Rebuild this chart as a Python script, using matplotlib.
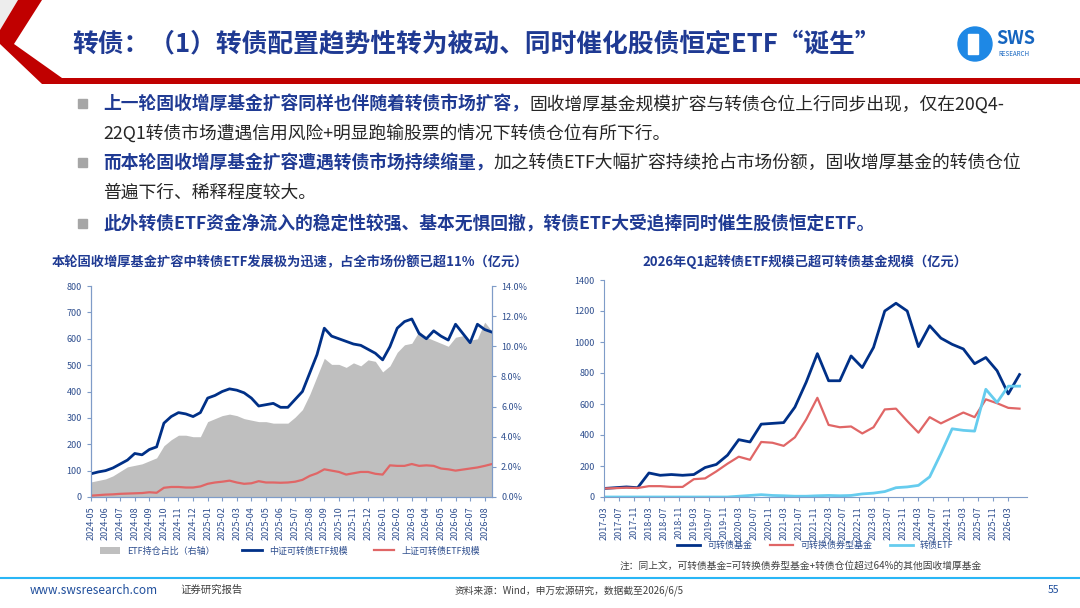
import matplotlib
matplotlib.use("Agg")
import matplotlib.pyplot as plt
from matplotlib.patches import Polygon, Rectangle
import numpy as np

plt.rcParams['font.family'] = ['Noto Sans CJK SC', 'DejaVu Sans']

# ---------- left chart data (semi-monthly) ----------
left_months = ['2024-05','2024-06','2024-07','2024-08','2024-09','2024-10','2024-11','2024-12',
               '2025-01','2025-02','2025-03','2025-04','2025-05','2025-06','2025-07','2025-08',
               '2025-09','2025-10','2025-11','2025-12','2026-01','2026-02','2026-03','2026-04',
               '2026-05','2026-06','2026-07','2026-08']
csi_etf = [88,95,100,110,125,140,165,160,180,190,280,305,320,315,305,320,
           375,385,400,410,405,395,375,345,350,355,340,340,370,400,470,540,
           640,610,600,590,580,575,560,545,520,570,640,665,675,620,600,630,
           610,595,655,620,585,655,635,625]
sse_etf = [5,7,9,10,12,13,14,15,18,16,35,38,38,36,36,40,50,55,58,62,55,50,52,60,
           55,55,54,55,58,65,80,90,105,100,95,85,90,95,95,88,85,120,118,118,
           125,118,120,118,108,105,100,104,108,112,118,125]
etf_share = [1.0,1.1,1.2,1.4,1.7,2.0,2.1,2.2,2.4,2.6,3.4,3.8,4.1,4.1,4.0,4.0,5.0,5.2,5.4,5.5,
             5.4,5.2,5.1,5.0,5.0,4.9,4.9,4.9,5.3,5.8,6.8,8.0,9.2,8.8,8.8,8.6,8.9,8.7,9.1,9.0,
             8.3,8.7,9.6,10.1,10.2,11.0,10.6,10.4,10.2,10.0,10.6,10.7,10.4,10.5,11.6,11.0]

# ---------- right chart data (quarterly, 2017-03 .. 2026-06) ----------
right_ticks = ['2017-03','2017-07','2017-11','2018-03','2018-07','2018-11','2019-03','2019-07',
               '2019-11','2020-03','2020-07','2020-11','2021-03','2021-07','2021-11','2022-03',
               '2022-07','2022-11','2023-03','2023-07','2023-11','2024-03','2024-07','2024-11',
               '2025-03','2025-07','2025-11','2026-03']
cb_fund = [55,60,65,60,155,140,145,140,145,190,210,270,370,355,470,475,480,580,740,925,
           750,750,910,835,965,1200,1250,1200,970,1105,1025,985,955,860,900,815,665,790]
cb_bond_fund = [55,57,60,58,70,70,65,65,115,120,165,215,260,240,355,350,330,385,500,640,
                465,450,455,410,450,565,570,490,415,515,475,510,545,515,630,605,575,570]
cb_etf = [0,0,0,0,0,0,0,0,0,0,0,0,5,10,15,10,8,5,5,8,10,8,10,20,25,35,60,65,75,130,280,
          440,430,425,695,610,715,715]

W, H = 1080, 608
fig = plt.figure(figsize=(W/100, H/100), dpi=100)
fig.patch.set_facecolor('white')
bg = fig.add_axes([0, 0, 1, 1]); bg.set_xlim(0, W); bg.set_ylim(H, 0); bg.axis('off')

RED = '#C00000'; NAVY = '#1F3A93'; DARK = '#003087'
# header decoration
bg.add_patch(Polygon([(0,0),(18,0),(0,30)], closed=True, color='#EDEDED', lw=0))
bg.add_patch(Polygon([(18,0),(42,0),(14,44),(62,78),(1080,78),(1080,84),(42,84),(0,44),(0,30)],
                     closed=True, color=RED, lw=0))
bg.text(72, 44, '转债：（1）转债配置趋势性转为被动、同时催化股债恒定ETF“诞生”',
        fontsize=18.5, fontweight='bold', color=NAVY, va='center')
# logo
bg.add_patch(plt.Circle((975, 44), 17, color='#1E88E5'))
bg.add_patch(Rectangle((968, 34), 10, 20, color='white'))
bg.text(996, 39, 'SWS', fontsize=13, fontweight='bold', color='#1565C0', va='center')
bg.text(998, 54, 'RESEARCH', fontsize=4.5, color='#1565C0', va='center')

# bullets with mixed styles
fig.canvas.draw()
r = fig.canvas.get_renderer()
def segs(x, y, parts, size=12.8):
    for txt, bold in parts:
        t = bg.text(x, y, txt, fontsize=size, fontweight='bold' if bold else 'normal',
                    color=NAVY if bold else '#262626', va='center')
        bb = t.get_window_extent(renderer=r)
        x += bb.width
for yy in (104, 163, 224):
    bg.add_patch(Rectangle((78, yy-5), 9, 9, color='#A6A6A6'))
segs(103, 104, [('上一轮固收增厚基金扩容同样也伴随着转债市场扩容，', True),
                ('固收增厚基金规模扩容与转债仓位上行同步出现，仅在20Q4-', False)])
segs(103, 133, [('22Q1转债市场遭遇信用风险+明显跑输股票的情况下转债仓位有所下行。', False)])
segs(103, 163, [('而本轮固收增厚基金扩容遭遇转债市场持续缩量，', True),
                ('加之转债ETF大幅扩容持续抢占市场份额，固收增厚基金的转债仓位', False)])
segs(103, 193, [('普遍下行、稀释程度较大。', False)])
segs(103, 224, [('此外转债ETF资金净流入的稳定性较强、基本无惧回撤，转债ETF大受追捧同时催生股债恒定ETF。', True)])

bg.text(290, 262, '本轮固收增厚基金扩容中转债ETF发展极为迅速，占全市场份额已超11%（亿元）',
        fontsize=9.5, fontweight='bold', color=NAVY, ha='center', va='center')
bg.text(805, 262, '2026年Q1起转债ETF规模已超可转债基金规模（亿元）',
        fontsize=9.5, fontweight='bold', color=NAVY, ha='center', va='center')

def fax(x0, y0, x1, y1):
    return fig.add_axes([x0/W, 1-y1/H, (x1-x0)/W, (y1-y0)/H])

AX = '#7F9CC8'; TK = '#2F4F8F'
# ---------- left chart ----------
ax = fax(91, 286, 492, 497)
ax2 = ax.twinx()
x = np.arange(len(csi_etf))
ax2.fill_between(x, 0, etf_share, color='#BFBFBF', lw=0, label='ETF持仓占比（右轴）')
ax2.set_ylim(0, 14); ax2.set_yticks(np.arange(0, 14.1, 2))
ax2.set_yticklabels([f'{v:.1f}%' for v in np.arange(0, 14.1, 2)])
ax.set_zorder(ax2.get_zorder()+1); ax.patch.set_visible(False)
ax.plot(x, csi_etf, color=DARK, lw=2, label='中证可转债ETF规模')
ax.plot(x, sse_etf, color='#E06666', lw=1.6, label='上证可转债ETF规模')
ax.set_ylim(0, 800); ax.set_yticks(range(0, 801, 100))
ax.set_xlim(0, len(csi_etf)-1)
ax.set_xticks(np.arange(0, 2*len(left_months), 2)); ax.set_xticklabels(left_months, rotation=90)
for a in (ax, ax2):
    a.spines['top'].set_visible(False)
    for s in ('left', 'right', 'bottom'): a.spines[s].set_color(AX)
    a.tick_params(labelsize=6.5, colors=TK, length=3, color=AX)
h1, l1 = ax2.get_legend_handles_labels(); h2, l2 = ax.get_legend_handles_labels()
fig.legend(h1+h2, l1+l2, loc='center', bbox_to_anchor=(290/W, 1-551/H), ncol=3, frameon=False,
           fontsize=6.5, labelcolor=TK, handlelength=2.2, columnspacing=3)

# ---------- right chart ----------
bx = fax(604, 280, 1027, 497)
xm = np.arange(len(cb_fund))*3
bx.plot(xm, cb_fund, color=DARK, lw=2, label='可转债基金')
bx.plot(xm, cb_bond_fund, color='#E06666', lw=1.6, label='可转换债券型基金')
bx.plot(xm, cb_etf, color='#66CCEE', lw=2, label='转债ETF')
bx.set_ylim(0, 1400); bx.set_yticks(range(0, 1401, 200))
bx.set_xlim(0, xm[-1]+2)
bx.set_xticks(np.arange(len(right_ticks))*4); bx.set_xticklabels(right_ticks, rotation=90)
for s in ('top', 'right'): bx.spines[s].set_visible(False)
for s in ('left', 'bottom'): bx.spines[s].set_color(AX)
bx.tick_params(labelsize=6.5, colors=TK, length=3, color=AX)
bx.legend(loc='center', bbox_to_anchor=(0.5, -0.225), ncol=3, frameon=False, fontsize=6.5,
          labelcolor=TK, handlelength=2.5, columnspacing=2)

bg.text(620, 566, '注：同上文，可转债基金=可转换债券型基金+转债仓位超过64%的其他固收增厚基金',
        fontsize=7, color='#404040', va='center')
bg.plot([0, 1080], [578, 578], color='#29B6F6', lw=1.5)
bg.text(30, 591, 'www.swsresearch.com', fontsize=8.5, color='#1F4E9C', va='center')
bg.text(180, 590, '证券研究报告', fontsize=7.5, color='#404040', va='center')
bg.text(455, 591, '资料来源：Wind，申万宏源研究，数据截至2026/6/5', fontsize=7, color='#404040', va='center')
bg.text(1048, 590, '55', fontsize=7.5, color='#1F4E9C', va='center')

fig.savefig('out.png', dpi=100)
